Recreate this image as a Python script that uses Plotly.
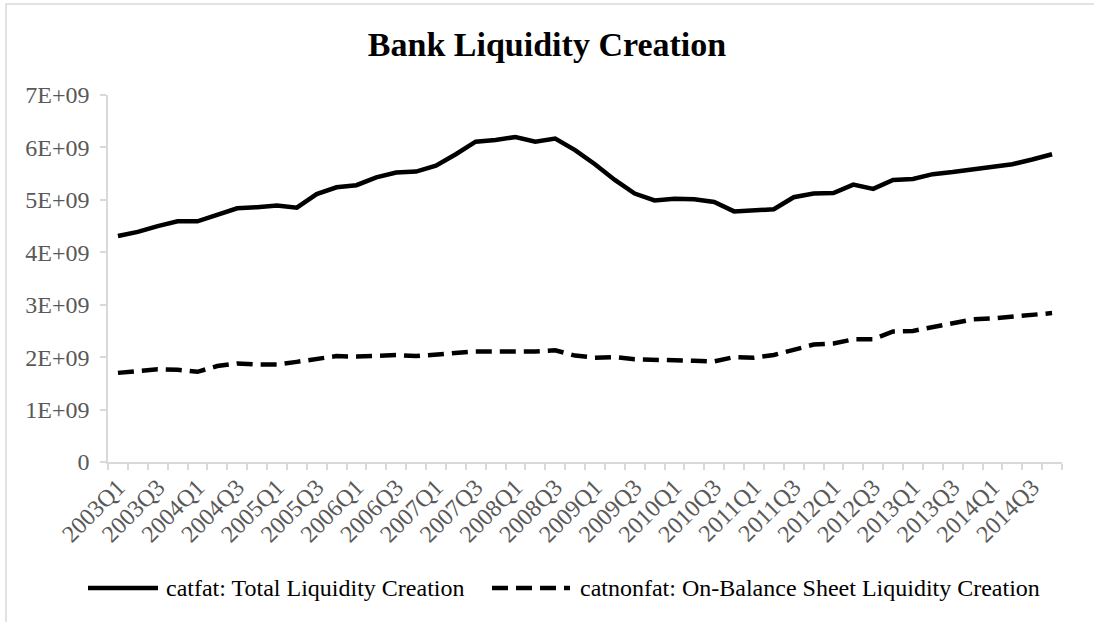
import plotly.graph_objects as go

# Quarterly bank liquidity creation, 2003Q1-2014Q4 (US dollars)
years = list(range(2003, 2015))
quarters = [f"{y}Q{q}" for y in years for q in range(1, 5)]

catfat = [
    4.31e9, 4.39e9, 4.50e9, 4.59e9, 4.59e9, 4.72e9, 4.84e9, 4.86e9,
    4.89e9, 4.85e9, 5.11e9, 5.24e9, 5.28e9, 5.43e9, 5.52e9, 5.54e9,
    5.65e9, 5.87e9, 6.11e9, 6.14e9, 6.20e9, 6.11e9, 6.17e9, 5.95e9,
    5.68e9, 5.38e9, 5.12e9, 4.99e9, 5.02e9, 5.01e9, 4.96e9, 4.78e9,
    4.80e9, 4.82e9, 5.05e9, 5.12e9, 5.13e9, 5.29e9, 5.21e9, 5.38e9,
    5.40e9, 5.49e9, 5.53e9, 5.58e9, 5.64e9, 5.68e9, 5.77e9, 5.87e9,
]
catnonfat = [
    1.70e9, 1.74e9, 1.77e9, 1.76e9, 1.72e9, 1.83e9, 1.88e9, 1.86e9,
    1.86e9, 1.91e9, 1.97e9, 2.02e9, 2.01e9, 2.03e9, 2.04e9, 2.02e9,
    2.05e9, 2.09e9, 2.11e9, 2.11e9, 2.10e9, 2.11e9, 2.13e9, 2.03e9,
    1.99e9, 2.00e9, 1.96e9, 1.96e9, 1.94e9, 1.93e9, 1.92e9, 2.00e9,
    1.99e9, 2.04e9, 2.14e9, 2.24e9, 2.26e9, 2.34e9, 2.34e9, 2.49e9,
    2.50e9, 2.58e9, 2.64e9, 2.72e9, 2.74e9, 2.77e9, 2.81e9, 2.84e9,
]

series_names = [
    "catfat: Total Liquidity Creation",
    "catnonfat: On-Balance Sheet Liquidity Creation",
]
y_tickvals = [0, 1e9, 2e9, 3e9, 4e9, 5e9, 6e9, 7e9]
y_ticktext = ["0", "1E+09", "2E+09", "3E+09", "4E+09", "5E+09", "6E+09", "7E+09"]

FONT = "Liberation Serif"
AXIS_GRAY = "#d9d9d9"
LABEL_GRAY = "#595959"
DASH = "16px,8px"

W, H = 1094, 622
ML, MR, MT, MB = 108, 32, 95, 160
PW, PH = W - ML - MR, H - MT - MB


def px_x(x):
    return (x - ML) / PW


def px_y(y):
    return (H - MB - y) / PH


idx = list(range(len(quarters)))

fig = go.Figure()
fig.add_trace(go.Scatter(
    x=idx, y=catfat, mode="lines", name=series_names[0],
    line=dict(color="black", width=4.5), showlegend=False,
))
fig.add_trace(go.Scatter(
    x=idx, y=catnonfat, mode="lines", name=series_names[1],
    line=dict(color="black", width=4.5, dash=DASH), showlegend=False,
))

# outer chart frame
shapes = [dict(
    type="rect", xref="paper", yref="paper",
    x0=px_x(6), x1=px_x(W + 20), y0=px_y(H + 20), y1=px_y(4),
    line=dict(color=AXIS_GRAY, width=1.5), fillcolor="rgba(0,0,0,0)", layer="below",
)]

# legend drawn below the axis
legend_y = px_y(588)
legend_items = [
    (88, 158, 164, "solid", series_names[0]),
    (492, 570, 578, DASH, series_names[1]),
]
annotations = []
for x0, x1, tx, dash, label in legend_items:
    shapes.append(dict(
        type="line", xref="paper", yref="paper",
        x0=px_x(x0), x1=px_x(x1), y0=legend_y, y1=legend_y,
        line=dict(color="black", width=4.5, dash=dash),
    ))
    annotations.append(dict(
        xref="paper", yref="paper", x=px_x(tx), y=legend_y,
        xanchor="left", yanchor="middle", text=label, showarrow=False,
        font=dict(family=FONT, size=24, color="black"),
    ))

fig.update_layout(
    width=W, height=H,
    margin=dict(l=ML, r=MR, t=MT, b=MB),
    paper_bgcolor="white", plot_bgcolor="white",
    title=dict(
        text="<b>Bank Liquidity Creation</b>",
        x=0.5, xref="container", xanchor="center",
        y=1 - 44 / H, yref="container", yanchor="middle",
        font=dict(family=FONT, size=34, color="black"),
    ),
    shapes=shapes,
    annotations=annotations,
    showlegend=False,
)

fig.update_xaxes(
    range=[-0.5, len(quarters) - 0.5],
    tickmode="array",
    tickvals=idx[::2],
    ticktext=quarters[::2],
    tickangle=-45,
    ticks="",
    showgrid=False, zeroline=False,
    showline=True, linecolor=AXIS_GRAY, linewidth=1.5,
    tickfont=dict(family=FONT, size=24, color=LABEL_GRAY),
    minor=dict(
        tickmode="array",
        tickvals=[i - 0.5 for i in range(len(quarters) + 1)],
        ticks="outside", ticklen=6, tickcolor=AXIS_GRAY, tickwidth=1.5,
        showgrid=False,
    ),
)
fig.update_yaxes(
    range=[0, 7e9],
    tickmode="array",
    tickvals=y_tickvals,
    ticktext=y_ticktext,
    ticks="outside", ticklen=6, tickcolor=AXIS_GRAY, tickwidth=1.5,
    ticklabelstandoff=6,
    showgrid=False, zeroline=False,
    showline=True, linecolor=AXIS_GRAY, linewidth=1.5,
    tickfont=dict(family=FONT, size=24, color=LABEL_GRAY),
)

fig.write_html("out.html")
